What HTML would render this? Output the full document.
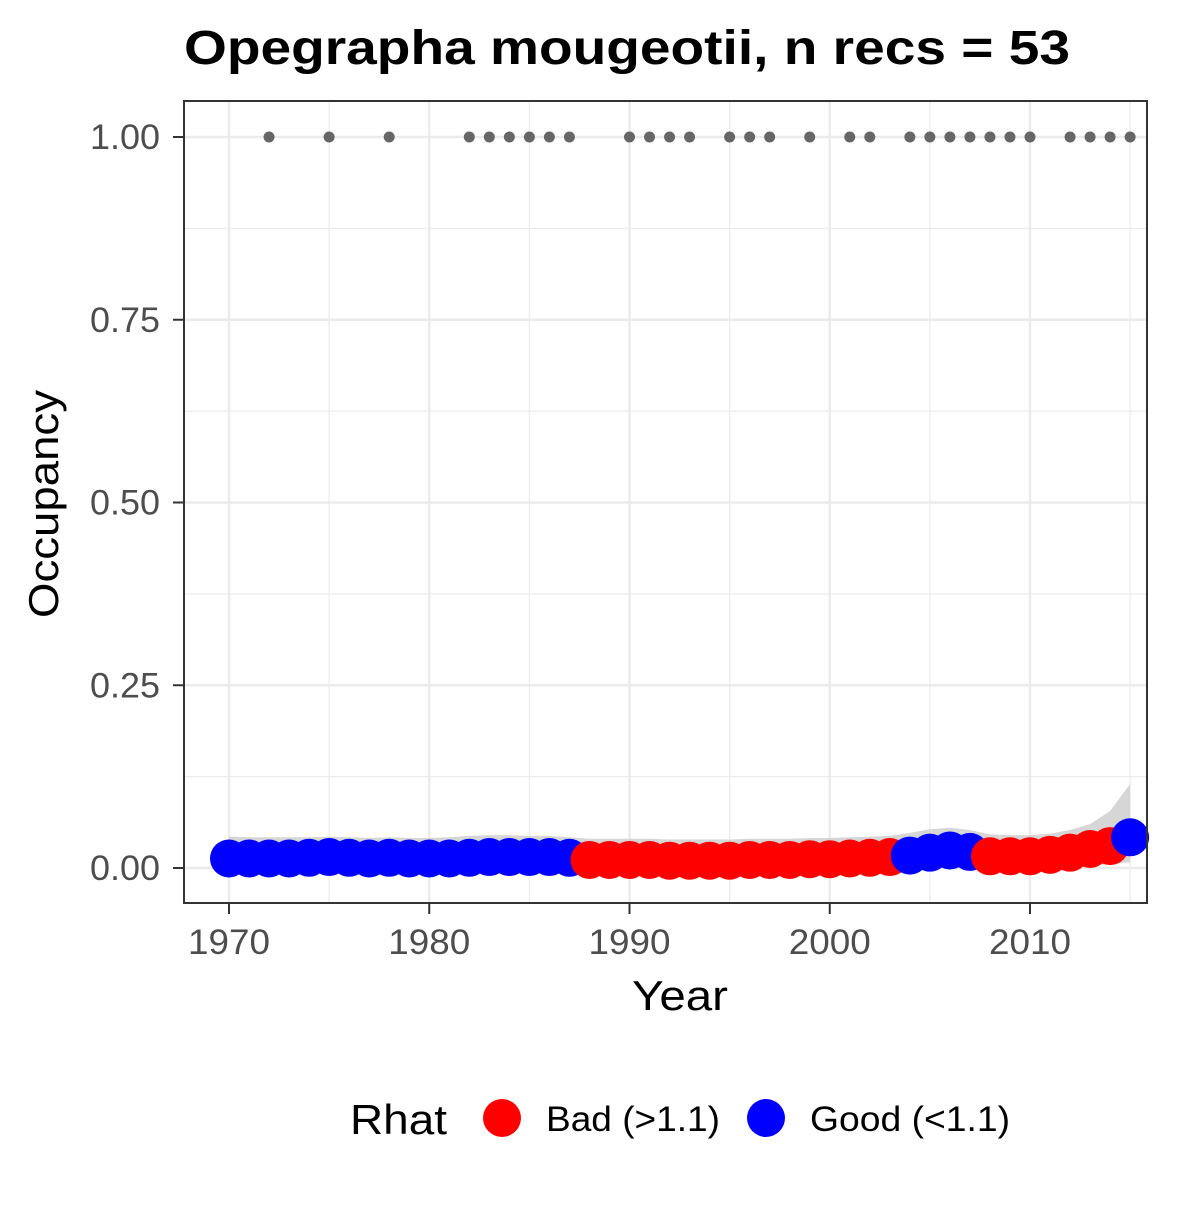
<!DOCTYPE html>
<html><head><meta charset="utf-8"><style>body{margin:0;background:#fff}svg text{font-family:"Liberation Sans",Arial,sans-serif}</style></head>
<body>
<svg id="chart" width="1200" height="1200" viewBox="0 0 1200 1200" xmlns="http://www.w3.org/2000/svg">
<rect width="1200" height="1200" fill="#fff"/>
<text x="184" y="64" font-size="48" font-weight="bold" fill="#000" textLength="886" lengthAdjust="spacingAndGlyphs">Opegrapha mougeotii, n recs = 53</text>
<g id="grid"></g>
<g id="ribbon"></g>
<g id="recs"></g>
<g id="pts"></g>
<rect x="184" y="101" width="963" height="802" fill="none" stroke="#333" stroke-width="2"/>
<g id="axes"></g>
<text x="632" y="1010" font-size="42" fill="#000" textLength="96" lengthAdjust="spacingAndGlyphs">Year</text>
<text transform="translate(58,618) rotate(-90)" font-size="42" fill="#000" textLength="228" lengthAdjust="spacingAndGlyphs">Occupancy</text>
<g>
<text x="350" y="1134" font-size="42" fill="#000" textLength="97" lengthAdjust="spacingAndGlyphs">Rhat</text>
<circle cx="502" cy="1118" r="19" fill="#ff0000"/>
<text x="546" y="1131" font-size="35" fill="#000" textLength="174" lengthAdjust="spacingAndGlyphs">Bad (&gt;1.1)</text>
<circle cx="766" cy="1118" r="19" fill="#0000ff"/>
<text x="810" y="1131" font-size="35" fill="#000" textLength="200" lengthAdjust="spacingAndGlyphs">Good (&lt;1.1)</text>
</g>
</svg>
<script>
const years=[];for(let y=1970;y<=2015;y++)years.push(y);
const occupancy=[0.013,0.013,0.013,0.013,0.014,0.015,0.014,0.013,0.014,0.013,0.013,0.013,0.014,0.015,0.015,0.015,0.015,0.014,
0.011,0.011,0.011,0.011,0.010,0.010,0.010,0.010,0.011,0.011,0.011,0.012,0.012,0.013,0.014,0.015,
0.017,0.021,0.024,0.022,
0.016,0.016,0.016,0.018,0.021,0.026,0.030,
0.042];
const rhatGood=[1,1,1,1,1,1,1,1,1,1,1,1,1,1,1,1,1,1, 0,0,0,0,0,0,0,0,0,0,0,0,0,0,0,0, 1,1,1,1, 0,0,0,0,0,0,0, 1];
const upper=[0.043,0.042,0.042,0.042,0.042,0.043,0.042,0.041,0.042,0.041,0.041,0.042,0.044,0.045,0.045,0.044,0.044,0.042,
0.040,0.040,0.040,0.040,0.039,0.039,0.039,0.039,0.040,0.040,0.040,0.041,0.041,0.042,0.043,0.044,
0.048,0.053,0.055,0.052,0.046,0.045,0.045,0.047,0.052,0.060,0.078,0.115];
const lower=[0.002,0.002,0.002,0.002,0.002,0.002,0.002,0.002,0.002,0.002,0.002,0.002,0.002,0.002,0.002,0.002,0.002,0.002,
0.002,0.002,0.002,0.002,0.002,0.002,0.002,0.002,0.002,0.002,0.002,0.002,0.002,0.002,0.002,0.002,
0.003,0.003,0.003,0.003,0.003,0.003,0.003,0.003,0.003,0.004,0.005,0.008];
const recYears=[1972,1975,1978,1982,1983,1984,1985,1986,1987,1990,1991,1992,1993,1995,1996,1997,1999,2001,2002,2004,2005,2006,2007,2008,2009,2010,2012,2013,2014,2015];
const xTicks=[1970,1980,1990,2000,2010];
const yTicks=[0,0.25,0.5,0.75,1];
const yTickLabels=["0.00","0.25","0.50","0.75","1.00"];
const X=v=>229+(v-1970)*(1030-229)/40;
const Y=v=>868-v*731;
const NS="http://www.w3.org/2000/svg";
function mk(p,t,a){const e=document.createElementNS(NS,t);for(const k in a)e.setAttribute(k,a[k]);document.getElementById(p).appendChild(e);return e;}
[1975,1985,1995,2005,2015].forEach(v=>{const e=mk('grid','line',{x1:X(v),x2:X(v),y1:101,y2:903,stroke:'#ebebeb','stroke-width':1.2});

});
[0.125,0.375,0.625,0.875].forEach(v=>{const e=mk('grid','line',{x1:184,x2:1147,y1:Y(v),y2:Y(v),stroke:'#ebebeb','stroke-width':1.2});

});
xTicks.forEach(v=>{const e=mk('grid','line',{x1:X(v),x2:X(v),y1:101,y2:903,stroke:'#ebebeb','stroke-width':2.4});


const t=mk('axes','line',{x1:X(v),x2:X(v),y1:903,y2:914,stroke:'#333','stroke-width':2});


const l=mk('axes','text',{x:X(v)-41,y:954,'font-size':35,fill:'#4d4d4d',textLength:82,lengthAdjust:'spacingAndGlyphs'});l.textContent=v;

});
yTicks.forEach((v,i)=>{const e=mk('grid','line',{x1:184,x2:1147,y1:Y(v),y2:Y(v),stroke:'#ebebeb','stroke-width':2.4});


const t=mk('axes','line',{x1:173,x2:184,y1:Y(v),y2:Y(v),stroke:'#333','stroke-width':2});


const l=mk('axes','text',{x:90,y:Y(v)+12,'font-size':35,fill:'#4d4d4d',textLength:70,lengthAdjust:'spacingAndGlyphs'});l.textContent=yTickLabels[i];

});
let d='';years.forEach((y,i)=>{d+=(i?'L':'M')+X(y)+','+Y(upper[i]);});
for(let i=years.length-1;i>=0;i--)d+='L'+X(years[i])+','+Y(lower[i]);
const r=mk('ribbon','path',{d:d+'Z',fill:'#d6d6d6'});


recYears.forEach(y=>{const c=mk('recs','circle',{cx:X(y),cy:Y(1),r:5.5,fill:'#666'});

});
years.forEach((y,i)=>{const c=mk('pts','circle',{cx:X(y),cy:Y(occupancy[i]),r:19,fill:rhatGood[i]?'#0000ff':'#ff0000'});

});
</script>
</body></html>
